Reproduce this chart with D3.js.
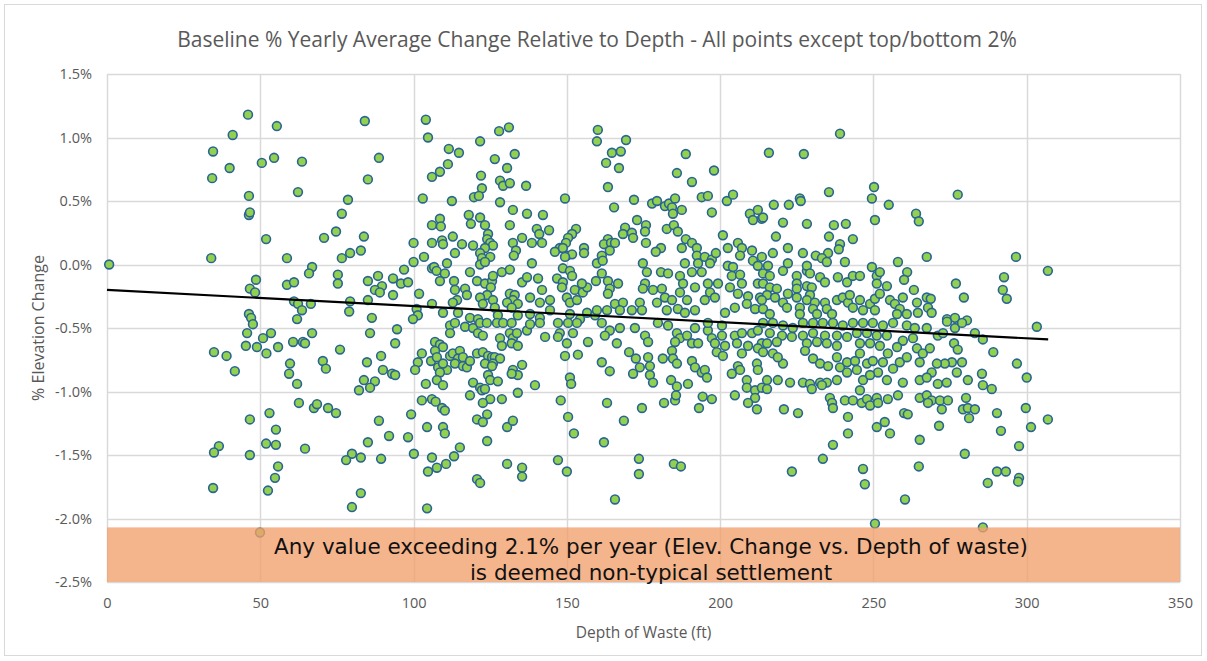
<!DOCTYPE html>
<html>
<head>
<meta charset="utf-8">
<script src="https://cdn.jsdelivr.net/npm/d3@7"></script>
<style>
  body { margin: 0; background: #fff; }
  text { font-family: "Open Sans", Lato, sans-serif; }
</style>
</head>
<body>
<svg width="1207" height="661"></svg>
<script>
'use strict';

// [depth ft, % elevation change]
const points = [
  [0.7,0.00],[46,1.18],[41,1.02],[34.6,0.89],[40,0.76],[34.3,0.68],[50.5,0.80],[46.3,0.54],[46.3,0.39],[46.6,0.41],[51.9,0.20],[34,0.05],
  [48.6,-0.12],[46.6,-0.19],[48.3,-0.22],[46.3,-0.39],[47,-0.42],[47.6,-0.47],[45.7,-0.54],[45.3,-0.64],[48.9,-0.65],[50.9,-0.58],[52,-0.70],
  [34.9,-0.69],[39,-0.72],[41.7,-0.84],[46.6,-1.22],[53,-1.17],[36.5,-1.43],[34.9,-1.48],[46.6,-1.50],[51.9,-1.41],[34.6,-1.76],[52.5,-1.78],[49.9,-2.11],
  [55.4,1.09],[84.1,1.13],[104,1.14],[104.7,1.00],[54.5,0.84],[63.6,0.81],[88.7,0.84],[85.1,0.67],[62.3,0.57],[78.6,0.51],[76.6,0.40],[103,0.52],
  [106,0.69],[70.8,0.21],[74.7,0.26],[83.8,0.22],[100,0.17],[106,0.31],[106,0.17],[58.7,0.05],[76.6,0.05],[79.3,0.09],[82.8,0.11],[103.4,0.06],
  [100,0.02],[66.9,-0.02],[65.9,-0.07],[75.3,-0.08],[75.3,-0.15],[58.7,-0.16],[61,-0.14],[96.9,-0.04],[106,-0.03],[85.1,-0.13],[88.4,-0.09],
  [89.7,-0.17],[87.4,-0.20],[89,-0.22],[93.3,-0.11],[95.9,-0.15],[98.2,-0.14],[93.3,-0.24],[101.8,-0.23],[85.1,-0.28],[61,-0.29],[62.3,-0.31],
  [66.5,-0.31],[63.6,-0.36],[79.3,-0.29],[79,-0.37],[62,-0.43],[86.4,-0.42],[101,-0.35],[101.4,-0.40],[99.8,-0.43],[106,-0.31],
  [53.5,-0.54],[55.8,-0.65],[66.9,-0.54],[60.7,-0.61],[63.9,-0.61],[64.6,-0.62],[59.7,-0.78],[59.4,-0.86],[62,-0.94],[76,-0.67],[70.4,-0.76],
  [71.4,-0.82],[85.8,-0.54],[94.6,-0.51],[94,-0.62],[84.8,-0.77],[89.4,-0.72],[90,-0.83],[93,-0.86],[94,-0.87],[83.8,-0.91],[87.4,-0.92],
  [85.8,-0.97],[82.2,-0.99],[102.7,-0.70],[101.4,-0.77],[100.5,-0.83],[105.7,-0.76],[104,-0.94],[62.6,-1.09],[67.5,-1.13],[68.5,-1.10],
  [72.1,-1.13],[74.7,-1.17],[55.1,-1.30],[55.1,-1.42],[64.6,-1.45],[88.7,-1.23],[92,-1.35],[85.1,-1.40],[99.2,-1.18],[98.2,-1.36],[100.1,-1.49],
  [104.4,-1.28],[102.7,-1.07],[106,-1.06],[79.9,-1.49],[78,-1.54],[82.8,-1.52],[89.4,-1.53],[106,-1.52],[104.7,-1.63],[55.8,-1.59],[54.8,-1.68],
  [82.8,-1.80],[79.9,-1.91],[104.4,-1.92],
  [127.9,1.05],[131.1,1.08],[121.7,0.97],[111.5,0.91],[114.8,0.88],[126.5,0.83],[133,0.87],[130.5,0.76],[111.2,0.79],[108.6,0.73],[122,0.70],
  [128.2,0.66],[129.2,0.62],[131.4,0.64],[136.7,0.62],[122.3,0.60],[119.7,0.53],[121.3,0.54],[112.5,0.50],[128.2,0.49],[149.4,0.52],[132.4,0.43],
  [137,0.40],[142.2,0.39],[118,0.39],[118.7,0.32],[121.7,0.37],[123.3,0.31],[108.6,0.36],[108.9,0.30],[131.4,0.31],[140.2,0.28],[141,0.24],
  [144.2,0.27],[153,0.28],[151.7,0.24],[150.4,0.21],[149.7,0.17],[147.7,0.13],[124.3,0.24],[124,0.20],[125,0.17],[125.9,0.15],[123.3,0.13],
  [112.8,0.22],[115.8,0.16],[119.4,0.15],[109.3,0.19],[109.6,0.16],[135.4,0.21],[132.4,0.17],[133.4,0.11],[132.7,0.07],[138.6,0.17],[141.9,0.17],
  [146.1,0.10],[148.7,0.13],[150,0.07],[151.7,0.08],[149.4,0.06],[155.6,0.13],[155.6,0.09],[121.7,0.09],[122.3,0.05],[125,0.06],[121.7,0.00],
  [123.3,0.02],[113.5,0.09],[110.9,0.01],[138.6,0.01],[106.7,-0.02],[107.5,-0.05],[128.8,-0.06],[131.4,-0.04],[118.4,-0.06],[110.2,-0.07],
  [108.6,-0.13],[113.2,-0.13],[113.5,-0.20],[116.8,-0.19],[117.4,-0.24],[114.2,-0.28],[112.8,-0.30],[120.7,-0.13],[123.3,-0.15],[125.6,-0.13],
  [125.9,-0.09],[125.2,-0.18],[124,-0.24],[121.7,-0.26],[122.6,-0.31],[125.9,-0.28],[126.5,-0.34],[131.4,-0.23],[133,-0.24],[132.4,-0.28],
  [130.5,-0.30],[134,-0.31],[132,-0.34],[135.4,-0.14],[137,-0.10],[140.6,-0.11],[141.9,-0.20],[138,-0.26],[141.2,-0.30],[144.5,-0.28],
  [146.8,-0.11],[148.7,-0.14],[148.4,-0.18],[150,-0.26],[151,-0.30],[153.3,-0.28],[152.6,-0.20],[155.2,-0.22],[156.6,-0.18],[154.9,-0.15],
  [148.7,-0.03],[151,-0.05],[151.7,-0.09],[159.8,0.01],[159.5,-0.13],[109.6,-0.38],[114.5,-0.38],[118.4,-0.42],[121,-0.43],[127.5,-0.40],
  [134,-0.40],[138,-0.39],[141.2,-0.42],[144.5,-0.36],[151,-0.39],[154.3,-0.43],[156.6,-0.38],[159.2,-0.40],
  [111.9,-0.48],[113.5,-0.46],[111.9,-0.54],[116.8,-0.49],[119.4,-0.50],[121,-0.54],[122.6,-0.56],[121.7,-0.46],[123.9,-0.46],[127.2,-0.46],
  [129.2,-0.46],[132,-0.46],[128.2,-0.58],[128.8,-0.64],[131.4,-0.54],[132.4,-0.58],[133.7,-0.54],[132,-0.62],[134,-0.64],[137,-0.52],[138,-0.47],
  [142.9,-0.57],[141.2,-0.46],[147.1,-0.46],[147.7,-0.54],[147.1,-0.57],[150.4,-0.46],[152,-0.54],[153.3,-0.46],[150,-0.62],[156.9,-0.61],
  [153.6,-0.71],[149.4,-0.72],[107,-0.61],[108.6,-0.63],[109.6,-0.65],[107,-0.68],[107.6,-0.73],[108,-0.81],[110.9,-0.83],[109.6,-0.78],
  [111.9,-0.72],[112.8,-0.70],[115.1,-0.68],[114.5,-0.74],[116.1,-0.73],[113.5,-0.78],[116.1,-0.80],[117.4,-0.81],[118.4,-0.76],[120.7,-0.70],
  [122.6,-0.69],[124.3,-0.72],[125.6,-0.73],[126.5,-0.73],[128.2,-0.74],[123.3,-0.78],[125.9,-0.78],[125.6,-0.80],[108.6,-0.85],[132.4,-0.83],
  [134,-0.87],[135.4,-0.79],[132,-0.86],[124.3,-0.87],[125,-0.91],[127.5,-0.92],[119.4,-0.93],[121.7,-0.97],[122.3,-0.99],[123.3,-0.98],
  [118.4,-1.03],[125,-1.06],[128.8,-1.06],[134,-1.01],[139.6,-0.95],[151,-0.89],[151.4,-0.94],[107.6,-0.91],[109.6,-0.95],[107.2,-1.08],
  [109.3,-1.13],[110.2,-1.15],[109.6,-1.28],[110.2,-1.33],[122.6,-1.09],[124,-1.18],[120.7,-1.22],[122.6,-1.24],[130.5,-1.28],[132.4,-1.23],
  [124,-1.39],[148,-1.07],[150.4,-1.20],[152.3,-1.33],[115.1,-1.44],[113.2,-1.51],[110.6,-1.57],[107.6,-1.60],[130.5,-1.57],[135.4,-1.60],
  [135.4,-1.67],[147.1,-1.54],[150,-1.63],[120.7,-1.69],[121.7,-1.72],
  [160.1,1.06],[159.8,0.97],[169.3,0.98],[164.7,0.88],[167.6,0.89],[162.8,0.80],[167,0.76],[188.8,0.87],[185.9,0.72],[190.8,0.65],[198,0.74],
  [163.4,0.61],[171.9,0.51],[165.4,0.45],[177.8,0.48],[179.4,0.50],[182,0.46],[183.3,0.48],[185.3,0.52],[184.3,0.45],[184.6,0.40],[187.5,0.43],
  [194,0.53],[196,0.54],[197.3,0.41],[202.2,0.50],[204.2,0.55],[209.7,0.40],[212.3,0.43],[213.6,0.36],[210.7,0.35],[172.9,0.35],[175.8,0.31],
  [175.5,0.26],[169,0.29],[168.3,0.24],[171.2,0.25],[171.6,0.21],[182.6,0.28],[184.9,0.31],[186.2,0.26],[200.9,0.23],[188.8,0.20],[190.8,0.17],
  [192.4,0.13],[187.5,0.13],[180.7,0.13],[179,0.10],[175.8,0.17],[163.4,0.20],[162.1,0.16],[164.4,0.17],[165.7,0.17],[164,0.11],[161.4,0.07],
  [161.7,0.03],[192.4,0.07],[195,0.06],[197.3,0.04],[198.6,0.09],[196.7,0.01],[192.8,0.01],[202.5,0.13],[205.8,0.17],[207.1,0.13],[206.5,0.07],
  [210.4,0.11],[210.7,0.03],[213.6,0.06],[212.3,-0.01],[174.8,0.01],[176.1,-0.06],[175.5,-0.15],[174.8,-0.19],[161.4,-0.07],[163.4,-0.13],
  [166.7,-0.15],[164,-0.19],[163.4,-0.23],[165.7,-0.31],[168.3,-0.30],[167.3,-0.36],[173.8,-0.30],[171.2,-0.36],[174.5,-0.36],[159.8,-0.36],
  [163.1,-0.36],[180.7,-0.06],[183,-0.07],[186.9,-0.09],[188.5,0.01],[187.9,-0.15],[190.8,-0.06],[194,-0.06],[186.9,-0.22],[181,-0.19],
  [178.1,-0.20],[182,-0.26],[179.4,-0.30],[184.3,-0.28],[182.6,-0.36],[186.2,-0.35],[189.2,-0.28],[191.8,-0.18],[196,-0.15],[196.7,-0.22],
  [195,-0.28],[198.3,-0.26],[199.3,-0.15],[202.5,-0.01],[204.2,-0.02],[203.8,-0.09],[206.5,-0.08],[207.1,-0.15],[203.2,-0.18],[205.8,-0.23],
  [209.1,-0.25],[208.7,-0.31],[212.3,-0.15],[213,-0.26],[211.4,-0.35],[204.8,-0.34],[201.6,-0.38],[191.8,-0.36],[188.5,-0.38],
  [161.4,-0.46],[164,-0.52],[162.4,-0.56],[167.3,-0.50],[172.2,-0.50],[179.7,-0.46],[183,-0.48],[185.9,-0.54],[186.9,-0.58],[185.3,-0.61],
  [189.2,-0.56],[190.8,-0.62],[192.8,-0.62],[191.8,-0.50],[196,-0.52],[197.3,-0.58],[198.3,-0.62],[200.6,-0.56],[201.6,-0.64],[204.8,-0.56],
  [207.1,-0.54],[205.5,-0.62],[209.1,-0.64],[210.4,-0.54],[212.3,-0.52],[213.6,-0.62],[212.3,-0.66],[198.9,-0.69],[200.9,-0.72],[196,-0.46],
  [200.6,-0.48],[166.3,-0.62],[170.3,-0.69],[172.5,-0.74],[173.8,-0.81],[176.5,-0.73],[177.1,-0.80],[177.1,-0.87],[178.1,-0.93],[175.5,-0.56],
  [176.5,-0.61],[171.6,-0.86],[164,-0.84],[161.4,-0.77],[181.3,-0.74],[184.3,-0.68],[184.6,-0.74],[185.9,-0.78],[184,-0.91],[185.9,-0.96],
  [189.5,-0.94],[190.8,-0.76],[191.8,-0.81],[194,-0.85],[195,-0.83],[195.7,-0.89],[181.7,-1.09],[185.3,-1.07],[185.6,-1.03],[194.3,-1.04],
  [197.3,-1.06],[193.1,-1.13],[203.8,-0.86],[204.8,-1.03],[205.8,-0.80],[207.1,-0.70],[208.7,-0.91],[208.7,-0.97],[211.4,-0.99],[211.4,-1.05],
  [209.1,-1.09],[212,-1.14],[212,-0.78],[212.3,-0.83],[213.6,-0.97],[206.5,-0.83],[163.1,-1.09],[174.5,-1.13],[168.6,-1.23],[162.1,-1.40],
  [173.5,-1.53],[173.5,-1.65],[184.9,-1.57],[187.2,-1.59],[165.7,-1.85],
  [239.1,1.03],[215.9,0.88],[227.3,0.87],[235.5,0.57],[250.2,0.61],[249.5,0.52],[255,0.47],[250.5,0.35],[226,0.52],[226.3,0.50],[222.4,0.47],
  [217.5,0.47],[214,0.37],[220.5,0.33],[228.3,0.32],[237.1,0.31],[241,0.32],[263.9,0.40],[264.8,0.34],[218.2,0.22],[235.5,0.22],[243.3,0.20],
  [239.1,0.16],[238.7,0.12],[235.2,0.09],[222.1,0.13],[217.2,0.09],[227,0.09],[231.2,0.07],[233.2,0.05],[234.8,0.02],[240.7,0.02],[258,0.02],
  [267.4,0.06],[261,-0.06],[260,-0.12],[263.2,-0.20],[215.6,-0.01],[214,-0.07],[216.2,-0.09],[220.5,-0.05],[222.1,0.01],[225,-0.09],[228.3,-0.05],
  [228.3,-0.01],[229.3,-0.07],[232.6,-0.10],[234.2,-0.14],[238.4,-0.10],[241.4,-0.14],[243.3,-0.09],[245.6,-0.09],[249.5,-0.02],[251.1,-0.09],
  [252.1,-0.06],[251.1,-0.15],[254.4,-0.17],[214,-0.15],[216.2,-0.18],[218.5,-0.19],[215.3,-0.24],[213.6,-0.28],[214,-0.35],[216.2,-0.39],
  [217.9,-0.26],[220.5,-0.30],[221.8,-0.34],[222.1,-0.23],[225,-0.15],[225,-0.19],[225,-0.26],[226,-0.34],[226,-0.39],[228.3,-0.17],[229.9,-0.18],
  [229.3,-0.24],[228.3,-0.28],[230.9,-0.30],[230.3,-0.35],[231.6,-0.39],[234.2,-0.30],[234.8,-0.35],[236.5,-0.39],[238.1,-0.28],[240,-0.26],
  [241.7,-0.30],[242.3,-0.24],[243.3,-0.34],[245.6,-0.28],[246.6,-0.36],[248.9,-0.31],[250.5,-0.27],[252.1,-0.23],[250.5,-0.36],[255.4,-0.28],
  [257,-0.31],[258.6,-0.35],[259.6,-0.26],[257.7,-0.39],[260.9,-0.39],[264.2,-0.30],[264.5,-0.38],[267.4,-0.26],
  [214,-0.46],[217.2,-0.46],[220.5,-0.48],[223.7,-0.50],[227,-0.46],[230.3,-0.46],[233.5,-0.46],[236.8,-0.46],[240,-0.48],[243.3,-0.46],
  [246.6,-0.46],[249.8,-0.46],[253.1,-0.48],[256.4,-0.46],[260.9,-0.48],[263.5,-0.50],[216.2,-0.54],[220.2,-0.56],[223.4,-0.57],[227,-0.56],
  [230.3,-0.54],[234.2,-0.56],[238.1,-0.56],[241.4,-0.57],[244.6,-0.54],[247.9,-0.54],[251.1,-0.56],[254.4,-0.56],[259.6,-0.60],[262.9,-0.58],
  [215.3,-0.62],[218.5,-0.61],[228.3,-0.62],[231.6,-0.61],[234.8,-0.62],[238.1,-0.64],[245.6,-0.62],[248.9,-0.62],[252.1,-0.64],[257.7,-0.65],
  [264.2,-0.66],[266.1,-0.70],[214,-0.69],[217.2,-0.70],[220.5,-0.78],[218.8,-0.73],[227.7,-0.68],[230.3,-0.74],[232.6,-0.78],[235.2,-0.80],
  [238.1,-0.73],[239.1,-0.81],[241.4,-0.77],[244,-0.76],[245.6,-0.70],[247.9,-0.78],[249.8,-0.76],[251.5,-0.85],[253.1,-0.77],[254.7,-0.70],
  [256.4,-0.82],[258.6,-0.77],[260.9,-0.73],[265.1,-0.77],[215.3,-0.91],[218.8,-0.91],[222.8,-0.93],[227,-0.93],[229.3,-0.94],[232.6,-0.93],
  [234.8,-0.93],[238.1,-0.91],[241.4,-0.85],[244.6,-0.83],[246.6,-0.91],[248.9,-0.87],[254.4,-0.91],[259.6,-0.93],[265.1,-0.91],[215.3,-0.98],
  [229.9,-0.98],[233.2,-0.95],[235.8,-1.05],[236.5,-1.09],[236.8,-1.13],[240.7,-1.07],[243.3,-1.07],[245.6,-0.99],[246.2,-1.09],[247.9,-1.06],
  [248.9,-1.11],[251.1,-1.05],[251.5,-1.09],[254.7,-1.06],[258,-1.03],[265.1,-1.05],[220.8,-1.14],[225.4,-1.17],[241.7,-1.20],[241.7,-1.33],
  [236.8,-1.42],[233.5,-1.53],[223.4,-1.63],[251.1,-1.28],[253.7,-1.24],[255.4,-1.33],[260,-1.17],[261.2,-1.18],[265.1,-1.38],[246.6,-1.61],
  [247.2,-1.73],[264.8,-1.59],[260.3,-1.85],[250.5,-2.04],
  [277.5,0.55],[296.5,0.06],[306.9,-0.05],[292.6,-0.10],[292.2,-0.20],[293.5,-0.27],[276.9,-0.15],[279.5,-0.26],[268.7,-0.27],[267.8,-0.34],
  [269,-0.38],[274,-0.43],[276.6,-0.42],[280.5,-0.44],[267.4,-0.50],[274,-0.45],[276.6,-0.50],[278.9,-0.46],[283.1,-0.54],[285.7,-0.59],
  [271,-0.56],[272.7,-0.54],[303.3,-0.49],[276.3,-0.62],[277.5,-0.67],[268.4,-0.66],[289.1,-0.69],[275.6,-0.77],[273.3,-0.78],[278.9,-0.77],
  [270.7,-0.78],[269,-0.85],[267.4,-0.89],[277.2,-0.85],[285.4,-0.86],[285.7,-0.95],[288.6,-0.98],[280.8,-0.91],[271,-0.94],[273.9,-0.93],
  [296.8,-0.78],[300,-0.89],[267.4,-1.03],[269,-1.07],[271.7,-1.07],[274.3,-1.07],[267.8,-1.09],[272.3,-1.14],[280.2,-1.05],[279.2,-1.14],
  [280.8,-1.13],[283.1,-1.14],[281.2,-1.21],[271.4,-1.27],[290.3,-1.17],[291.6,-1.31],[299.7,-1.13],[301.4,-1.28],[306.9,-1.22],[297.5,-1.43],
  [279.8,-1.49],[290.3,-1.63],[293.2,-1.63],[297.5,-1.68],[297.2,-1.71],[287.3,-1.72],[285.7,-2.07]
];

const trendX = [0, 307];
const trendY = [-0.20, -0.59];

const xTicks = [0, 50, 100, 150, 200, 250, 300, 350];
const yTicks = [1.5, 1.0, 0.5, 0.0, -0.5, -1.0, -1.5, -2.0, -2.5];

const bandRange = [-2.07, -2.5];

const title = "Baseline % Yearly Average Change Relative to Depth - All points except top/bottom 2%";
const xTitle = "Depth of Waste (ft)";
const yTitle = "% Elevation Change";
const bandText = ["Any value exceeding 2.1% per year (Elev. Change vs. Depth of waste)", "is deemed non-typical settlement"];

const svg = d3.select("svg");

const plotLeft = 107, plotRight = 1180, plotTop = 74, plotBottom = 582;

const x = d3.scaleLinear().domain([0, 350]).range([plotLeft, plotRight]);
const y = d3.scaleLinear().domain([-2.5, 1.5]).range([plotBottom, plotTop]);

// chart frame
svg.append("rect")
  .attr("x", 4.5).attr("y", 4.5)
  .attr("width", 1197).attr("height", 651)
  .attr("fill", "#fff")
  .attr("stroke", "#d9d9d9");

svg.append("text")
  .attr("x", 597).attr("y", 47)
  .attr("text-anchor", "middle")
  .attr("font-size", 21)
  .attr("fill", "#595959")
  .text(title);

// gridlines
svg.append("g")
  .selectAll("line")
  .data(yTicks)
  .join("line")
  .attr("x1", plotLeft).attr("x2", plotRight)
  .attr("y1", d => Math.round(y(d)) + 0.5).attr("y2", d => Math.round(y(d)) + 0.5)
  .attr("stroke", "#d9d9d9")
  .attr("stroke-width", 1.5);

svg.append("g")
  .selectAll("line")
  .data(xTicks)
  .join("line")
  .attr("x1", d => Math.round(x(d)) + 0.5).attr("x2", d => Math.round(x(d)) + 0.5)
  .attr("y1", plotTop).attr("y2", plotBottom)
  .attr("stroke", "#d9d9d9")
  .attr("stroke-width", 1.5);

// axes, labels only
const xAxis = svg.append("g")
  .attr("transform", "translate(0," + plotBottom + ")")
  .call(d3.axisBottom(x).tickValues(xTicks).tickSize(0).tickPadding(16).tickFormat(d3.format("d")));
const yAxis = svg.append("g")
  .attr("transform", "translate(" + plotLeft + ",0)")
  .call(d3.axisLeft(y).tickValues(yTicks).tickSize(0).tickPadding(15).tickFormat(d => d.toFixed(1) + "%"));

[xAxis, yAxis].forEach(a => {
  a.select(".domain").remove();
  a.selectAll("text")
    .attr("font-size", 14.5)
    .attr("fill", "#595959");
});

svg.append("text")
  .attr("x", (plotLeft + plotRight) / 2).attr("y", 638)
  .attr("text-anchor", "middle")
  .attr("font-size", 15.5)
  .attr("fill", "#595959")
  .text(xTitle);

svg.append("text")
  .attr("transform", "translate(44," + (plotTop + plotBottom) / 2 + ") rotate(-90)")
  .attr("text-anchor", "middle")
  .attr("font-size", 16)
  .attr("fill", "#595959")
  .text(yTitle);

// scatter
svg.append("g")
  .selectAll("circle")
  .data(points)
  .join("circle")
  .attr("cx", d => x(d[0]))
  .attr("cy", d => y(d[1]))
  .attr("r", 4.4)
  .attr("fill", "#92d050")
  .attr("stroke", "#2a6495")
  .attr("stroke-width", 1.6);

// linear trendline
svg.append("line")
  .attr("x1", x(trendX[0])).attr("y1", y(trendY[0]))
  .attr("x2", x(trendX[1])).attr("y2", y(trendY[1]))
  .attr("stroke", "#000")
  .attr("stroke-width", 2.2);

// "non-typical" band on top
svg.append("rect")
  .attr("x", plotLeft).attr("y", y(bandRange[0]))
  .attr("width", plotRight - plotLeft)
  .attr("height", y(bandRange[1]) - y(bandRange[0]))
  .attr("fill", "#f2a06c")
  .attr("fill-opacity", 0.78);

svg.append("g")
  .selectAll("text")
  .data(bandText)
  .join("text")
  .attr("x", 651)
  .attr("y", (d, i) => 554 + i * 26)
  .attr("text-anchor", "middle")
  .style("font-family", "'DejaVu Sans', sans-serif")
  .attr("font-size", 21.5)
  .attr("fill", "#111")
  .text(d => d);
</script>
</body>
</html>
